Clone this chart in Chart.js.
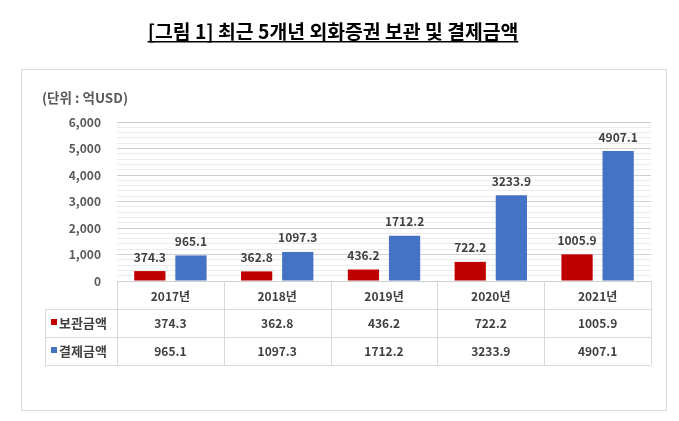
<!DOCTYPE html>
<html><head><meta charset="utf-8">
<script src="https://cdn.jsdelivr.net/npm/chart.js@4"></script>
<style>html,body{margin:0;padding:0;background:#fff}#wrap{width:679px;height:421px}</style>
</head><body><div id="wrap"><canvas id="c" width="679" height="421"></canvas></div>
<script>
const titleText = '[그림 1] 최근 5개년 외화증권 보관 및 결제금액';
const unitText = '(단위 : 억USD)';
const categories = ['2017년', '2018년', '2019년', '2020년', '2021년'];
const seriesNames = ['보관금액', '결제금액'];
const custodyValues = [374.3, 362.8, 436.2, 722.2, 1005.9];
const settlementValues = [965.1, 1097.3, 1712.2, 3233.9, 4907.1];
const yMajorTicks = [0, 1000, 2000, 3000, 4000, 5000, 6000];

const FONT = '"Noto Sans CJK KR", "Noto Sans", sans-serif';
const RED = '#C00000', BLUE = '#4472C4';
const seriesColors = [RED, BLUE];
const seriesValues = [custodyValues, settlementValues];
const fmt = v => v.toFixed(1);

const framePlugin = {
  id: 'frame',
  beforeDraw(chart) {
    const ctx = chart.ctx;
    ctx.save();
    ctx.fillStyle = '#fff';
    ctx.fillRect(0, 0, chart.width, chart.height);
    ctx.strokeStyle = '#d9d9d9';
    ctx.lineWidth = 1;
    ctx.strokeRect(21.5, 69.5, 645, 341);
    // title
    let size = 16;
    ctx.font = 'bold ' + size + 'px ' + FONT;
    let w = ctx.measureText(titleText).width;
    size = size * 371 / w;
    ctx.font = 'bold ' + size + 'px ' + FONT;
    w = ctx.measureText(titleText).width;
    ctx.fillStyle = '#000';
    ctx.textAlign = 'center';
    ctx.textBaseline = 'alphabetic';
    ctx.fillText(titleText, 333, 39);
    ctx.fillRect(333 - w / 2, 41, w, 1.5);
    // unit
    ctx.font = 'bold 13.5px ' + FONT;
    ctx.fillStyle = '#595959';
    ctx.textAlign = 'left';
    ctx.textBaseline = 'middle';
    ctx.fillText(unitText, 42, 98);
    ctx.restore();
  }
};

const labelsPlugin = {
  id: 'barLabels',
  afterDatasetsDraw(chart) {
    const ctx = chart.ctx;
    ctx.save();
    ctx.font = 'bold 12px ' + FONT;
    ctx.fillStyle = '#404040';
    ctx.textAlign = 'center';
    ctx.textBaseline = 'bottom';
    chart.data.datasets.forEach((ds, di) => {
      chart.getDatasetMeta(di).data.forEach((bar, i) => {
        ctx.fillText(fmt(ds.data[i]), bar.x, bar.y - 8);
      });
    });
    ctx.restore();
  }
};

const tablePlugin = {
  id: 'dataTable',
  afterDraw(chart) {
    const ctx = chart.ctx;
    const x = chart.scales.x;
    const area = chart.chartArea;
    const n = categories.length;
    const colW = (area.right - area.left) / n;
    const top = area.bottom, rowH = 28;
    const tableLeft = 45;
    ctx.save();
    ctx.strokeStyle = '#d9d9d9';
    ctx.lineWidth = 1;
    ctx.beginPath();
    for (let r = 1; r <= 3; r++) {
      const y = Math.round(top + r * rowH) + 0.5;
      ctx.moveTo(tableLeft, y); ctx.lineTo(area.right, y);
    }
    for (let c = 0; c <= n; c++) {
      const xx = Math.round(area.left + c * colW) + 0.5;
      ctx.moveTo(xx, top); ctx.lineTo(xx, top + 3 * rowH);
    }
    ctx.moveTo(tableLeft + 0.5, top + rowH); ctx.lineTo(tableLeft + 0.5, top + 3 * rowH);
    ctx.stroke();
    ctx.textBaseline = 'middle';
    seriesNames.forEach((name, si) => {
      const cy = top + rowH * (si + 1) + rowH / 2;
      ctx.fillStyle = seriesColors[si];
      ctx.fillRect(51, Math.round(cy) - 4, 6, 6);
      ctx.fillStyle = '#404040';
      ctx.textAlign = 'left';
      ctx.font = 'bold 13px ' + FONT;
      ctx.fillText(name, 59, cy);
      ctx.textAlign = 'center';
      ctx.font = 'bold 12px ' + FONT;
      seriesValues[si].forEach((v, i) => {
        ctx.fillText(fmt(v), x.getPixelForValue(i), cy);
      });
    });
    ctx.restore();
  }
};

new Chart(document.getElementById('c'), {
  type: 'bar',
  data: {
    labels: categories,
    datasets: seriesNames.map((name, i) => ({
      label: name,
      data: seriesValues[i],
      backgroundColor: seriesColors[i],
      categoryPercentage: 0.77,
      barPercentage: 0.76
    }))
  },
  options: {
    responsive: false,
    devicePixelRatio: 1,
    animation: false,
    layout: { padding: { top: 122, right: 28, left: 0, bottom: 0 } },
    plugins: { legend: { display: false }, tooltip: { enabled: false } },
    scales: {
      x: {
        grid: { display: false },
        border: { display: false },
        ticks: { color: '#404040', font: { family: FONT, size: 12, weight: 'bold' }, padding: 0 },
        afterFit(s) { s.height = 140; }
      },
      y: {
        min: 0, max: 6000,
        afterBuildTicks(s) {
          const t = [];
          for (let v = 0; v <= 6000; v += 200) t.push({ value: v });
          s.ticks = t;
        },
        ticks: {
          autoSkip: false,
          padding: 16,
          color: '#595959',
          font: { family: FONT, size: 12, weight: 'bold' },
          callback: v => yMajorTicks.includes(v) ? v.toLocaleString('en-US') : ''
        },
        grid: {
          drawTicks: false,
          color: c => yMajorTicks.includes(c.tick.value) ? '#d0d0d0' : '#ebebeb'
        },
        border: { display: false },
        afterFit(s) { s.width = 117; }
      }
    }
  },
  plugins: [framePlugin, labelsPlugin, tablePlugin]
});
</script></body></html>
